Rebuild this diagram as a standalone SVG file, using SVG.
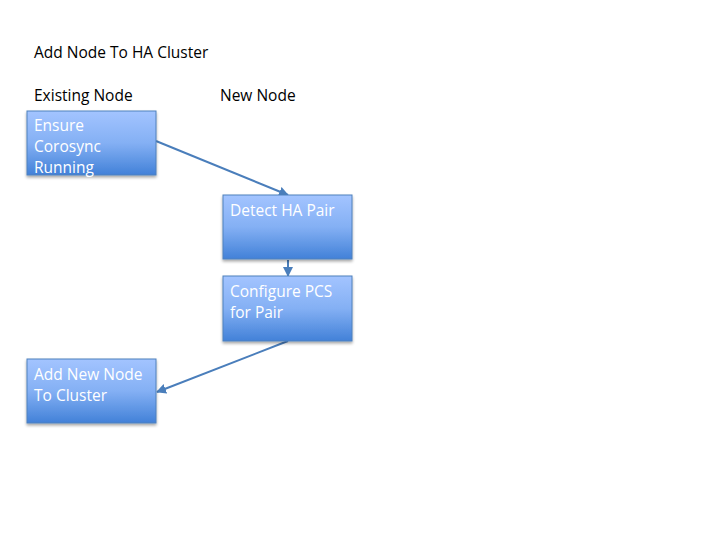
<svg xmlns="http://www.w3.org/2000/svg" width="720" height="540" viewBox="0 0 720 540">
<defs>
<linearGradient id="g" x1="0" y1="0" x2="0" y2="1">
<stop offset="0" stop-color="#a3c4ff"/>
<stop offset="0.5" stop-color="#84b0f4"/>
<stop offset="1" stop-color="#4281d8"/>
</linearGradient>
<filter id="sh" x="-10%" y="-10%" width="130%" height="130%">
<feGaussianBlur in="SourceAlpha" stdDeviation="1.5"/>
<feOffset dx="0" dy="2"/>
<feComponentTransfer><feFuncA type="linear" slope="0.35"/></feComponentTransfer>
<feMerge><feMergeNode/><feMergeNode in="SourceGraphic"/></feMerge>
</filter>
<marker id="ah" viewBox="0 0 10 10" refX="9" refY="5" markerWidth="5" markerHeight="5" orient="auto">
<path d="M0,0 L10,5 L0,10 z" fill="#4a7ebb"/>
</marker>
</defs>
<style>
.box{fill:url(#g);stroke:#4f81bd;stroke-width:1;filter:url(#sh)}
.t{font-family:"Open Sans","Liberation Sans",sans-serif;font-size:15.5px;fill:#000}
.w{font-family:"Open Sans","Liberation Sans",sans-serif;font-size:15.5px;fill:#fff}
.c{stroke:#4a7ebb;stroke-width:2;fill:none;marker-end:url(#ah)}
</style>
<rect width="720" height="540" fill="#fff"/>
<text class="t" x="34" y="58">Add Node To HA Cluster</text>
<text class="t" x="34" y="101">Existing Node</text>
<text class="t" x="220" y="101">New Node</text>
<g id="connectors">
<line class="c" x1="156" y1="141" x2="288" y2="195"/>
<line class="c" x1="288" y1="260" x2="288" y2="276"/>
<line class="c" x1="288" y1="341" x2="157" y2="392"/>
</g>
<g id="n1">
<rect class="box" x="27" y="111" width="129" height="64"/>
<text class="w" x="34" y="131">Ensure</text>
<text class="w" x="34" y="152">Corosync</text>
<text class="w" x="34" y="173">Running</text>
</g>
<g id="n2">
<rect class="box" x="223" y="195" width="129" height="64"/>
<text class="w" x="230" y="216">Detect HA Pair</text>
</g>
<g id="n3">
<rect class="box" x="223" y="276" width="129" height="65"/>
<text class="w" x="230" y="297">Configure PCS</text>
<text class="w" x="230" y="318">for Pair</text>
</g>
<g id="n4">
<rect class="box" x="27" y="359" width="129" height="64"/>
<text class="w" x="34" y="380">Add New Node</text>
<text class="w" x="34" y="401">To Cluster</text>
</g>
</svg>
